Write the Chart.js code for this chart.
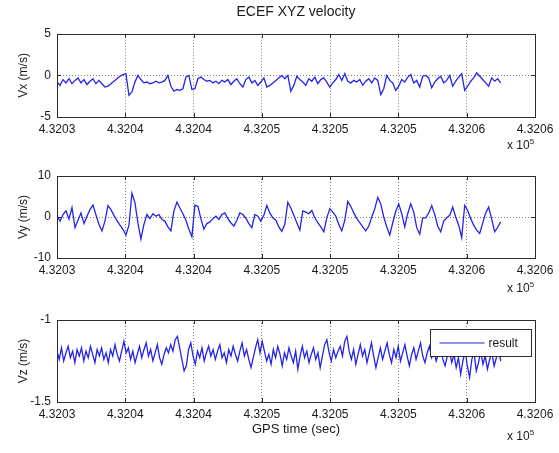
<!DOCTYPE html>
<html>
<head>
<meta charset="utf-8">
<script src="https://cdn.jsdelivr.net/npm/chart.js@4.4.1/dist/chart.umd.min.js"></script>
<style>
  html, body { margin: 0; padding: 0; background: #fff; }
  #fig { position: relative; width: 559px; height: 453px; overflow: hidden; font-family: 'Liberation Sans', Arial, sans-serif; }
  canvas { position: absolute; left: 0; }
  .expo { position: absolute; font-size: 12px; color: #1a1a1a; white-space: nowrap; }
  .expo sup { font-size: 8px; }
</style>
</head>
<body>
<div id="fig">
  <canvas id="cvx" width="559" height="140" style="top:0px"></canvas>
  <canvas id="cvy" width="559" height="140" style="top:140px"></canvas>
  <canvas id="cvz" width="559" height="173" style="top:280px"></canvas>
  <div class="expo" style="left:507px;top:137px">x 10<sup>5</sup></div>
  <div class="expo" style="left:507px;top:280px">x 10<sup>5</sup></div>
  <div class="expo" style="left:507px;top:428px">x 10<sup>5</sup></div>
</div>
<script>
// GPS time axis (sec), first sample and spacing of each series
const T0 = 432030;
const DT_XY = 0.2195;
const DT_Z = 0.1633;

const xTicks = [432030, 432035, 432040, 432045, 432050, 432055, 432060, 432065];
const xTickLabels = ['4.3203', '4.3204', '4.3204', '4.3205', '4.3205', '4.3205', '4.3206', '4.3206'];

const vxTicks = ['-5', '0', '5'];
const vyTicks = ['-10', '0', '10'];
const vzTicks = ['-1.5', '-1'];

// velocities (m/s)
const vx = [
  -0.8, -1.2, -0.5, -0.9, -0.4, -1.0, -0.6, -0.3, -0.9, -0.5,
  -1.1, -0.7, -0.4, -1.0, -0.6, -1.0, -1.4, -1.3, -1.0, -0.7,
  -0.4, -0.1, 0.1, 0.2, -2.4, -2.0, -0.8, 0.0, -0.5, -0.9,
  -0.8, -1.0, -0.9, -0.7, -0.9, -0.8, -0.6, 0.0, -1.3, -1.9,
  -1.7, -1.8, -1.6, -0.2, 0.0, -1.7, -1.6, -0.4, -0.2, -0.5,
  -0.7, -0.6, -0.9, -0.7, -1.0, -0.6, -0.8, -0.5, -1.1, -0.7,
  -0.4, -1.0, -1.4, -0.5, -0.2, -0.9, -0.6, -1.2, -0.8, -0.3,
  -1.4, -1.2, -0.9, -0.6, -0.3, 0.0, -0.4, 0.0, -1.9, -1.2,
  -0.1, -0.5, -0.8, -1.2, -0.4, -0.7, -0.2, -1.0, -0.5, -0.3,
  -0.8, -1.4, -0.9, -0.5, 0.1, -0.6, 0.2, -0.7, -0.9, -0.6,
  -0.8, -0.5, -1.2, -0.7, -0.4, -0.9, -0.3, -0.6, -2.3, -1.6,
  0.0, -0.6, -0.9, -1.8, -1.3, -0.5, -0.8, -0.2, 0.1, -0.9,
  -0.6, -1.4, -0.1, 0.0, -0.3, -1.5, -0.8, -0.4, -0.1, -0.9,
  -0.6, 0.0, -1.3, -0.7, -0.2, 0.2, -1.8, -1.3, -0.7, -0.3,
  0.3, -0.1, -0.5, -0.9, -1.3, -0.3, -0.7, -0.4, -0.9
];

const vy = [
  0.3, -1.0, 0.6, 1.5, -0.5, 2.3, -2.6, -0.8, 1.0, -1.6,
  0.2, 1.8, 2.9, 0.5, -1.8, -3.4, -1.0, 2.8, 1.8, 0.4,
  -0.9, -2.0, -3.0, -4.4, -2.0, 5.8, 3.5, -1.5, -5.4, -1.8,
  0.6, -0.4, 0.8, 0.2, 0.6, -0.6, -1.0, -2.4, -3.4, 1.5,
  3.6, 2.2, 0.8, -0.8, -3.0, -4.8, 2.9, 2.6, -0.4, -3.0,
  -1.6, -1.2, -0.4, 0.2, -0.6, 0.6, 1.0, -0.4, -1.4, -2.2,
  -0.8, 1.0, 0.6, -0.3, -1.6, -2.6, 0.6, 0.2, -1.0, 0.4,
  2.8, 1.0, -0.2, -0.8, -2.4, -3.5, -1.8, 3.6, 2.2, 0.4,
  -1.4, -3.2, 1.5, 1.2, 0.8, 1.6, -0.2, -1.4, -2.4, -3.6,
  -0.2, 2.0, 1.2, 0.2, -1.8, -3.4, -0.8, 3.8, 2.6, 1.0,
  -0.4, -1.4, -2.4, -3.4, -2.2, 0.0, 2.0, 4.8, 3.2, 0.0,
  -2.4, -4.4, -1.4, 1.4, 3.2, 0.8, -2.4, 0.8, 3.2, 1.2,
  -2.6, -4.2, -0.2, -0.2, 1.0, 2.8, 0.6, -2.2, -3.6, -1.0,
  -0.2, 0.4, 2.4, 0.0, -2.0, -5.0, 2.8, 1.6, -0.4, -2.0,
  -3.2, -4.0, -1.5, 1.0, 2.4, -0.5, -3.6, -2.5, -1.2
];

const vz = [
  -1.19, -1.24, -1.17, -1.25, -1.20, -1.16, -1.23, -1.19, -1.26, -1.18,
  -1.22, -1.17, -1.25, -1.19, -1.23, -1.16, -1.21, -1.26, -1.18, -1.22,
  -1.17, -1.24, -1.20, -1.26, -1.18, -1.22, -1.15, -1.21, -1.25, -1.19,
  -1.13, -1.20, -1.17, -1.24, -1.19, -1.26, -1.21, -1.16, -1.23, -1.18,
  -1.14, -1.22, -1.18, -1.25, -1.20, -1.15, -1.23, -1.27, -1.21, -1.17,
  -1.20, -1.15, -1.19, -1.12, -1.10, -1.17, -1.24, -1.31, -1.28, -1.18,
  -1.14, -1.22, -1.27, -1.19, -1.23, -1.17, -1.25, -1.20, -1.16, -1.22,
  -1.18, -1.24, -1.19, -1.15, -1.23, -1.20, -1.26, -1.18, -1.22, -1.16,
  -1.21, -1.25, -1.19, -1.14, -1.22, -1.18, -1.24, -1.29, -1.23, -1.17,
  -1.12, -1.20, -1.13, -1.19, -1.25, -1.21, -1.27, -1.18, -1.23, -1.16,
  -1.21, -1.28, -1.20, -1.24, -1.17, -1.22, -1.26, -1.19, -1.30, -1.22,
  -1.16, -1.23, -1.19, -1.26, -1.21, -1.17, -1.24, -1.20, -1.29, -1.22,
  -1.15, -1.12, -1.20, -1.25, -1.18, -1.23, -1.19, -1.16, -1.22, -1.13,
  -1.10, -1.19, -1.24, -1.18, -1.27, -1.21, -1.15, -1.22, -1.18, -1.26,
  -1.20, -1.14, -1.22, -1.29, -1.23, -1.17, -1.24, -1.19, -1.14, -1.21,
  -1.26, -1.18, -1.23, -1.16, -1.25, -1.20, -1.15, -1.22, -1.28, -1.21,
  -1.17, -1.24, -1.19, -1.14, -1.22, -1.26, -1.20, -1.16, -1.23, -1.19,
  -1.25, -1.21, -1.17, -1.24, -1.28, -1.22, -1.19, -1.26, -1.21, -1.29,
  -1.23, -1.33, -1.25, -1.19, -1.28, -1.35, -1.24, -1.20, -1.31, -1.26,
  -1.19, -1.27, -1.22, -1.30, -1.24, -1.20, -1.28, -1.23, -1.19, -1.25
];

const LINE_COLOR = '#2424e8';
const TEXT_COLOR = '#1a1a1a';
const FONT = "'Liberation Sans', Arial, sans-serif";

// box round the axes with small inward tick marks, like matlab
const framePlugin = {
  id: 'frame',
  afterDraw(chart) {
    const { ctx, chartArea: a, scales } = chart;
    ctx.save();
    ctx.strokeStyle = '#2b2b2b';
    ctx.lineWidth = 1;
    ctx.strokeRect(Math.round(a.left) + 0.5, Math.round(a.top) + 0.5,
      Math.round(a.right - a.left), Math.round(a.bottom - a.top));
    ctx.beginPath();
    scales.x.ticks.forEach(t => {
      const px = Math.round(scales.x.getPixelForValue(t.value)) + 0.5;
      ctx.moveTo(px, a.bottom); ctx.lineTo(px, a.bottom - 4);
      ctx.moveTo(px, a.top); ctx.lineTo(px, a.top + 4);
    });
    scales.y.ticks.forEach(t => {
      const py = Math.round(scales.y.getPixelForValue(t.value)) + 0.5;
      ctx.moveTo(a.left, py); ctx.lineTo(a.left + 4, py);
      ctx.moveTo(a.right, py); ctx.lineTo(a.right - 4, py);
    });
    ctx.stroke();

    // legend box in the top right corner
    if (chart.options.plugins.frame && chart.options.plugins.frame.legend) {
      const ds = chart.data.datasets[0];
      const w = 101, h = 27;
      const lx = Math.round(a.right) - 4 - w + 0.5;
      const ly = Math.round(a.top) + 9 + 0.5;
      ctx.fillStyle = '#fff';
      ctx.fillRect(lx, ly, w, h);
      ctx.strokeStyle = '#2b2b2b';
      ctx.strokeRect(lx, ly, w, h);
      ctx.strokeStyle = ds.borderColor;
      ctx.lineWidth = 1.2;
      ctx.beginPath();
      ctx.moveTo(lx + 9, ly + h / 2);
      ctx.lineTo(lx + 54, ly + h / 2);
      ctx.stroke();
      ctx.fillStyle = TEXT_COLOR;
      ctx.font = '12px ' + FONT;
      ctx.textBaseline = 'middle';
      ctx.fillText(ds.label, lx + 58, ly + h / 2 + 1);
    }
    ctx.restore();
  }
};

function makePanel(id, values, dt, yLabel, yMin, yMax, yTickLabels, extra) {
  const points = values.map((v, i) => ({ x: T0 + i * dt, y: v }));
  const midGrid = (ctx) => (ctx.index > 0 && ctx.index < ctx.scale.ticks.length - 1) ? 'rgba(0,0,0,0.5)' : 'rgba(0,0,0,0)';

  return new Chart(document.getElementById(id), {
    type: 'line',
    data: {
      datasets: [{
        label: 'result',
        data: points,
        borderColor: LINE_COLOR,
        borderWidth: 1.3,
        pointRadius: 0,
        tension: 0,
        fill: false
      }]
    },
    options: {
      responsive: false,
      animation: false,
      devicePixelRatio: 1,
      layout: { padding: { left: 0, right: 24, top: extra.padTop, bottom: 0 } },
      plugins: {
        legend: { display: false },
        tooltip: { enabled: false },
        title: extra.title ? {
          display: true,
          text: extra.title,
          fullSize: false,
          color: TEXT_COLOR,
          font: { family: FONT, size: 14, weight: 'normal' },
          padding: { top: 4, bottom: 13 }
        } : { display: false },
        frame: { legend: !!extra.legend }
      },
      scales: {
        x: {
          type: 'linear',
          min: xTicks[0],
          max: xTicks[xTicks.length - 1],
          afterBuildTicks: (scale) => { scale.ticks = xTicks.map(v => ({ value: v })); },
          afterFit: (scale) => { scale.height = extra.xHeight; },
          ticks: {
            autoSkip: false,
            maxRotation: 0,
            padding: 5,
            color: TEXT_COLOR,
            font: { family: FONT, size: 12 },
            callback: (value, index) => xTickLabels[index]
          },
          grid: { color: midGrid, lineWidth: 1, drawTicks: false },
          border: { display: false, dash: [1, 2] },
          title: extra.xTitle ? {
            display: true,
            text: extra.xTitle,
            color: TEXT_COLOR,
            font: { family: FONT, size: 13 },
            padding: { top: 0, bottom: 16 }
          } : { display: false }
        },
        y: {
          min: yMin,
          max: yMax,
          ticks: {
            stepSize: (yMax - yMin) / (yTickLabels.length - 1),
            padding: 6,
            color: TEXT_COLOR,
            font: { family: FONT, size: 12 },
            callback: (value, index) => yTickLabels[index]
          },
          afterFit: (scale) => { scale.width = 57; },
          grid: { color: midGrid, lineWidth: 1, drawTicks: false },
          border: { display: false, dash: [1, 2] },
          title: {
            display: true,
            text: yLabel,
            color: TEXT_COLOR,
            font: { family: FONT, size: 12 },
            padding: { top: 16, bottom: 0 }
          }
        }
      }
    },
    plugins: [framePlugin]
  });
}

makePanel('cvx', vx, DT_XY, 'Vx (m/s)', -5, 5, vxTicks,
  { padTop: 0, xHeight: 23, title: 'ECEF XYZ velocity' });
makePanel('cvy', vy, DT_XY, 'Vy (m/s)', -10, 10, vyTicks,
  { padTop: 36, xHeight: 22 });
makePanel('cvz', vz, DT_Z, 'Vz (m/s)', -1.5, -1, vzTicks,
  { padTop: 40, xHeight: 51, xTitle: 'GPS time (sec)', legend: true });
</script>
</body>
</html>
